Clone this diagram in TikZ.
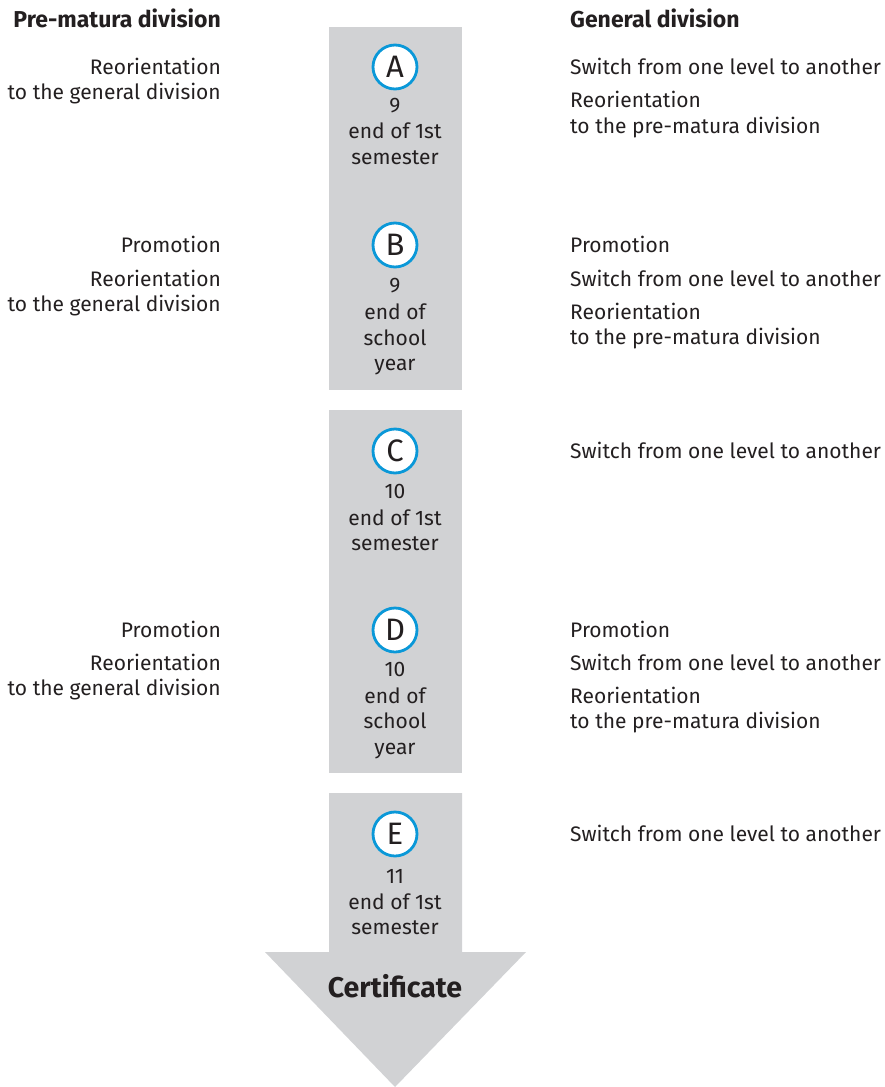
\documentclass[tikz,border=0pt]{standalone}
\usepackage{fontspec}
\setmainfont{Fira Sans}
\definecolor{boxgray}{HTML}{D1D2D4}
\definecolor{ink}{HTML}{231F20}
\definecolor{ringblue}{HTML}{0A98D8}
\begin{document}
\begin{tikzpicture}[x=1pt,y=-1pt,
  txt/.style={inner sep=0pt,text=ink,font=\fontsize{21}{25}\selectfont},
  lt/.style={txt,anchor=base east},
  rt/.style={txt,anchor=base west},
  ct/.style={txt,anchor=base},
  hd/.style={inner sep=0pt,text=ink,font=\fontsize{23}{27}\selectfont\bfseries},
  ring/.style={circle,draw=ringblue,line width=2.8pt,fill=white,minimum size=44pt,inner sep=0pt,text=ink,font=\fontsize{31}{33}\selectfont},
  panel/.style={fill=boxgray,draw=none}]
\useasboundingbox (0,0) rectangle (884,1087);
% panels
\path[panel] (329,27) rectangle (462,390);
\path[panel] (329,410) rectangle (462,773);
\path[panel] (329,793) -- (462,793) -- (462,952) -- (526,952) -- (395,1087) -- (265,952) -- (329,952) -- cycle;
% headers
\node[hd,anchor=base east] (h1) at (221,27) {Pre-matura division};
\node[hd,anchor=base west] (h2) at (570,27) {General division};
% A
\node[ring] (A) at (395,67) {A};
\node[ct] (a1) at (395,112) {9};
\node[ct] (a2) at (395,138) {end of 1st};
\node[ct] (a3) at (395,164) {semester};
\node[lt] (al1) at (221,74) {Reorientation};
\node[lt] (al2) at (221,99) {to the general division};
\node[rt] (ar1) at (570,74) {Switch from one level to another};
\node[rt] (ar2) at (570,107) {Reorientation};
\node[rt] (ar3) at (570,133) {to the pre-matura division};
% B
\node[ring] (B) at (395,245) {B};
\node[ct] (b1) at (395,292) {9};
\node[ct] (b2) at (395,319) {end of};
\node[ct] (b3) at (395,345) {school};
\node[ct] (b4) at (395,370) {year};
\node[lt] (bl1) at (221,252) {Promotion};
\node[lt] (bl2) at (221,286) {Reorientation};
\node[lt] (bl3) at (221,311) {to the general division};
\node[rt] (br1) at (570,252) {Promotion};
\node[rt] (br2) at (570,286) {Switch from one level to another};
\node[rt] (br3) at (570,319) {Reorientation};
\node[rt] (br4) at (570,344) {to the pre-matura division};
% C
\node[ring] (C) at (395,451) {C};
\node[ct] (c1) at (395,498) {10};
\node[ct] (c2) at (395,525) {end of 1st};
\node[ct] (c3) at (395,550) {semester};
\node[rt] (cr1) at (570,458) {Switch from one level to another};
% D
\node[ring] (D) at (395,630) {D};
\node[ct] (d1) at (395,676) {10};
\node[ct] (d2) at (395,703) {end of};
\node[ct] (d3) at (395,728) {school};
\node[ct] (d4) at (395,754) {year};
\node[lt] (dl1) at (221,637) {Promotion};
\node[lt] (dl2) at (221,670) {Reorientation};
\node[lt] (dl3) at (221,695) {to the general division};
\node[rt] (dr1) at (570,637) {Promotion};
\node[rt] (dr2) at (570,670) {Switch from one level to another};
\node[rt] (dr3) at (570,703) {Reorientation};
\node[rt] (dr4) at (570,728) {to the pre-matura division};
% E
\node[ring] (E) at (395,834) {E};
\node[ct] (e1) at (395,883) {11};
\node[ct] (e2) at (395,909) {end of 1st};
\node[ct] (e3) at (395,934) {semester};
\node[inner sep=0pt,text=ink,anchor=base,font=\fontsize{28.5}{31}\selectfont\bfseries] (cert) at (395,997) {Certificate};
\node[rt] (er1) at (570,841) {Switch from one level to another};
\end{tikzpicture}
\end{document}
